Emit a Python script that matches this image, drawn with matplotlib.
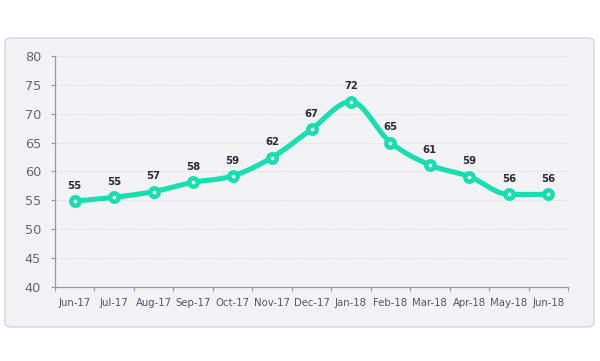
import matplotlib.pyplot as plt
import numpy as np
from matplotlib.patches import FancyBboxPatch, PathPatch
from matplotlib.path import Path

months = ["Jun-17", "Jul-17", "Aug-17", "Sep-17", "Oct-17", "Nov-17", "Dec-17",
          "Jan-18", "Feb-18", "Mar-18", "Apr-18", "May-18", "Jun-18"]
values = [54.85, 55.5, 56.5, 58.1, 59.2, 62.4, 67.3, 72.1, 65.0, 61.1, 59.1, 56.0, 56.0]
labels = ["55", "55", "57", "58", "59", "62", "67", "72", "65", "61", "59", "56", "56"]

teal = "#19dfb0"

fig = plt.figure(figsize=(6, 3.61), dpi=100)
fig.patch.set_facecolor("white")

# rounded panel behind the chart
panel = FancyBboxPatch((5 / 600, 1 - 327 / 361), 589 / 600, 289 / 361,
                       boxstyle="round,pad=0,rounding_size=0.012",
                       transform=fig.transFigure, facecolor="#f3f3f5",
                       edgecolor="#d6d6d8", linewidth=1.0, zorder=-5)
fig.add_artist(panel)

ax = fig.add_axes([55 / 600, 1 - 286.7 / 361, 513 / 600, 230.7 / 361])
ax.set_facecolor("none")

x = np.arange(len(values))
y = np.array(values, dtype=float)

# monotone cubic (Fritsch-Carlson) tangents for a smooth path through points
dx = np.diff(x)
sl = np.diff(y) / dx
m = np.zeros_like(y)
m[0], m[-1] = sl[0], sl[-1]
for i in range(1, len(y) - 1):
    if sl[i - 1] * sl[i] <= 0:
        m[i] = 0
    else:
        m[i] = (sl[i - 1] + sl[i]) / 2
verts = [(x[0], y[0])]
codes = [Path.MOVETO]
for i in range(len(y) - 1):
    h = dx[i] / 3
    verts += [(x[i] + h, y[i] + m[i] * h), (x[i + 1] - h, y[i + 1] - m[i + 1] * h), (x[i + 1], y[i + 1])]
    codes += [Path.CURVE4] * 3
ax.add_patch(PathPatch(Path(verts, codes), facecolor="none", edgecolor=teal,
                       linewidth=3.7, capstyle="round", joinstyle="round", zorder=3))
ax.plot(x, y, linestyle="none", marker="o", markersize=6.0, markerfacecolor="white",
        markeredgecolor=teal, markeredgewidth=3.3, zorder=4)

for xi, yi, lab in zip(x, y, labels):
    ax.annotate(lab, (xi, yi), xytext=(0, 7.5), textcoords="offset points",
                ha="center", va="bottom", fontsize=7.3, fontweight="semibold",
                color="#2b2b38")

ax.set_xlim(-0.5, 12.5)
ax.set_ylim(40, 80)
ax.set_yticks(np.arange(40, 81, 5))
ax.set_xticks(x)
ax.set_xticklabels(months)
ax.set_xticks(np.arange(-0.5, 12.6, 1), minor=True)
ax.tick_params(axis="x", which="major", length=0, pad=8, labelsize=7.3, labelcolor="#555560")
ax.tick_params(axis="x", which="minor", length=3, color="#999999", width=0.8)
ax.tick_params(axis="y", length=3, color="#999999", width=0.8, pad=7,
               labelsize=9.3, labelcolor="#666670")
ax.grid(axis="y", color="#e2e2e4", linestyle=(0, (2, 1)), linewidth=0.7, zorder=0)
for s in ["top", "right"]:
    ax.spines[s].set_visible(False)
for s in ["left", "bottom"]:
    ax.spines[s].set_color("#999999")
    ax.spines[s].set_linewidth(0.9)

plt.savefig("out.png", dpi=100)
